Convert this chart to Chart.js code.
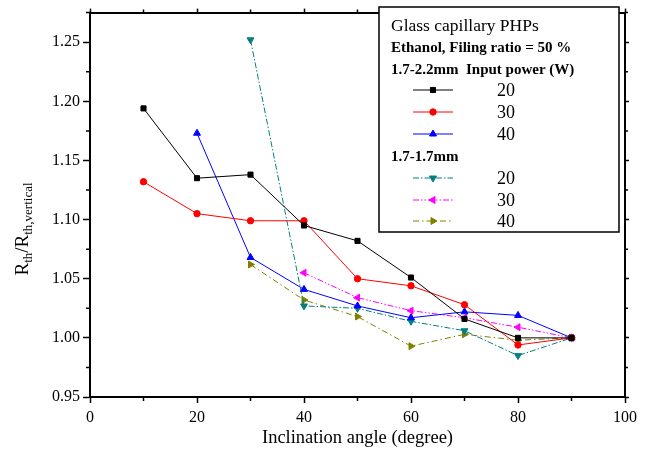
<!DOCTYPE html>
<html>
<head>
<meta charset="utf-8">
<script src="https://cdn.jsdelivr.net/npm/chart.js@4.4.1/dist/chart.umd.min.js"></script>
<style>
  html, body { margin: 0; padding: 0; background: #fff; }
  #wrap { width: 652px; height: 452px; position: relative; }
</style>
</head>
<body>
<div id="wrap"><canvas id="chart" width="652" height="452"></canvas></div>
<script>
// inclination angle (degree)
const angles = [10, 20, 30, 40, 50, 60, 70, 80, 90];

// 1.7-2.2mm capillary, by input power
const d22_20W = [1.194, 1.135, 1.138, 1.095, 1.082, 1.051, 1.016, 1.000, 1.000];
const d22_30W = [1.132, 1.105, 1.099, 1.099, 1.050, 1.044, 1.028, 0.994, 1.000];
const d22_40W = [null, 1.173, 1.068, 1.041, 1.027, 1.017, 1.022, 1.019, 1.000];

// 1.7-1.7mm capillary, by input power
const d17_20W = [null, null, 1.252, 1.027, 1.025, 1.014, 1.006, 0.985, 1.000];
const d17_30W = [null, null, null, 1.055, 1.034, 1.023, 1.017, 1.009, 1.000];
const d17_40W = [null, null, 1.062, 1.032, 1.018, 0.993, 1.003, 0.998, 1.000];

const xTicks = [0, 20, 40, 60, 80, 100];
const yTicks = [0.95, 1.00, 1.05, 1.10, 1.15, 1.20, 1.25];

const FONT = "'Liberation Serif', 'Times New Roman', serif";

function pts(vals) {
    const out = [];
    vals.forEach((v, i) => { if (v !== null) out.push({ x: angles[i], y: v }); });
    return out;
}

function series(label, vals, color, style, rot, radius, dash) {
    return {
        label,
        data: pts(vals),
        borderColor: color,
        backgroundColor: color,
        borderWidth: 1,
        borderDash: dash,
        pointStyle: style,
        rotation: rot,
        pointRadius: radius,
        pointBorderWidth: 1,
        tension: 0
    };
}

const datasets = [
    series('20', d22_20W, '#000000', 'rect', 0, 3.6, []),
    series('30', d22_30W, '#ff0000', 'circle', 0, 3.2, []),
    series('40', d22_40W, '#0000ff', 'triangle', 0, 4, []),
    series('20', d17_20W, '#008080', 'triangle', 180, 4, [6, 2, 1.5, 2]),
    series('30', d17_30W, '#ff00ff', 'triangle', 270, 4, [6, 2, 1.5, 2, 1.5, 2]),
    series('40', d17_40W, '#808000', 'triangle', 90, 4, [6, 3, 1.5, 3])
];

// minor ticks, y title and the boxed legend
const extras = {
    id: 'extras',
    afterDraw(chart) {
        const ctx = chart.ctx;
        const xs = chart.scales.x, ys = chart.scales.y;
        const a = chart.chartArea;
        ctx.save();
        ctx.strokeStyle = '#000';
        ctx.lineWidth = 1.5;
        ctx.beginPath();
        for (let v = 10; v < 100; v += 20) {
            const px = xs.getPixelForValue(v);
            ctx.moveTo(px, a.bottom); ctx.lineTo(px, a.bottom + 4);
            ctx.moveTo(px, a.top); ctx.lineTo(px, a.top - 3);
        }
        for (let v = 0.975; v < 1.28; v += 0.05) {
            const py = ys.getPixelForValue(v);
            ctx.moveTo(a.left, py); ctx.lineTo(a.left - 4, py);
            ctx.moveTo(a.right, py); ctx.lineTo(a.right + 3, py);
        }
        ctx.stroke();

        // y axis title with subscripts
        ctx.fillStyle = '#000';
        ctx.translate(28, 229);
        ctx.rotate(-Math.PI / 2);
        const parts = [['R', 19, 0], ['th', 13, 4], ['/R', 19, 0], ['th,vertical', 13, 4]];
        let w = 0;
        parts.forEach(p => { ctx.font = p[1] + 'px ' + FONT; w += ctx.measureText(p[0]).width; });
        let x = -w / 2;
        ctx.textBaseline = 'alphabetic';
        parts.forEach(p => {
            ctx.font = p[1] + 'px ' + FONT;
            ctx.fillText(p[0], x, p[2]);
            x += ctx.measureText(p[0]).width;
        });
        ctx.restore();

        // legend box
        ctx.save();
        ctx.fillStyle = '#fff';
        ctx.fillRect(379, 7, 240, 225);
        ctx.strokeStyle = '#000';
        ctx.lineWidth = 1.5;
        ctx.strokeRect(379, 7, 240, 225);
        ctx.fillStyle = '#000';
        ctx.textBaseline = 'middle';
        ctx.textAlign = 'left';
        ctx.font = '17.5px ' + FONT;
        ctx.fillText('Glass capillary PHPs', 391, 26);
        ctx.font = 'bold 15px ' + FONT;
        ctx.fillText('Ethanol, Filing ratio = 50 %', 391, 48);
        ctx.fillText('1.7-2.2mm  Input power (W)', 391, 70);
        ctx.fillText('1.7-1.7mm', 391, 157);
        const rows = [90, 112, 134, 178, 200, 221];
        chart.data.datasets.forEach((ds, i) => {
            const y = rows[i];
            ctx.strokeStyle = ds.borderColor;
            ctx.fillStyle = ds.backgroundColor;
            ctx.lineWidth = 1;
            ctx.setLineDash(ds.borderDash);
            ctx.beginPath();
            ctx.moveTo(413, y); ctx.lineTo(453, y);
            ctx.stroke();
            ctx.setLineDash([]);
            Chart.helpers.drawPoint(ctx, {
                pointStyle: ds.pointStyle, rotation: ds.rotation,
                radius: ds.pointRadius, borderWidth: 1
            }, 433, y);
            ctx.fillStyle = '#000';
            ctx.font = '18px ' + FONT;
            ctx.fillText(ds.label, 497, y + 1);
        });
        ctx.restore();
    }
};

const borderOpt = { display: true, color: '#000', width: 2 };

new Chart(document.getElementById('chart'), {
    type: 'line',
    data: { datasets },
    options: {
        responsive: false,
        animation: false,
        layout: { padding: 0 },
        plugins: { legend: { display: false }, tooltip: { enabled: false } },
        scales: {
            x: {
                type: 'linear', position: 'bottom', min: 0, max: 100,
                afterBuildTicks: s => { s.ticks = xTicks.map(v => ({ value: v })); },
                afterFit: s => { s.height = 55; },
                border: borderOpt,
                grid: { drawOnChartArea: false, tickLength: 6, tickColor: '#000', tickWidth: 1.5 },
                ticks: { color: '#000', padding: 5, maxRotation: 0, font: { family: FONT, size: 16 } },
                title: {
                    display: true, text: 'Inclination angle (degree)', color: '#000',
                    padding: { top: 0, bottom: 3 }, font: { family: FONT, size: 18.5 }
                }
            },
            x2: {
                type: 'linear', position: 'top', min: 0, max: 100,
                afterBuildTicks: s => { s.ticks = xTicks.map(v => ({ value: v })); },
                afterFit: s => { s.height = 4; },
                border: borderOpt,
                grid: { drawOnChartArea: false, tickLength: 4, tickColor: '#000', tickWidth: 1.5 },
                ticks: { display: false }
            },
            y: {
                type: 'linear', position: 'left', min: 0.95, max: 1.275,
                afterBuildTicks: s => { s.ticks = yTicks.map(v => ({ value: v })); },
                afterFit: s => { s.width = 90; },
                border: borderOpt,
                grid: { drawOnChartArea: false, tickLength: 7, tickColor: '#000', tickWidth: 1.5 },
                ticks: {
                    color: '#000', padding: 3, font: { family: FONT, size: 16 },
                    callback: v => Number(v).toFixed(2)
                }
            },
            y2: {
                type: 'linear', position: 'right', min: 0.95, max: 1.275,
                afterBuildTicks: s => { s.ticks = yTicks.map(v => ({ value: v })); },
                afterFit: s => { s.width = 27; },
                border: borderOpt,
                grid: { drawOnChartArea: false, tickLength: 4, tickColor: '#000', tickWidth: 1.5 },
                ticks: { display: false }
            }
        }
    },
    plugins: [extras]
});
</script>
</body>
</html>
